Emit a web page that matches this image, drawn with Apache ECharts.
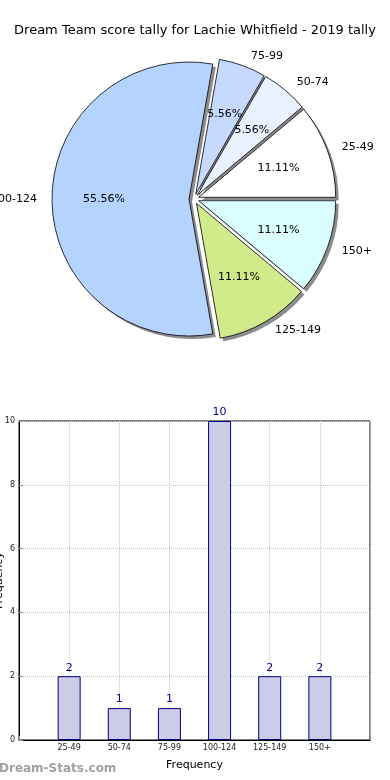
<!DOCTYPE html>
<html>
<head>
<meta charset="utf-8">
<script src="https://cdn.jsdelivr.net/npm/echarts@6/dist/echarts.min.js"></script>
<style>
html,body{margin:0;padding:0;background:#fff;}
#chart{width:390px;height:780px;}
</style>
</head>
<body>
<div id="chart"></div>
<script>
const titleText = 'Dream Team score tally for Lachie Whitfield - 2019 tally';
const categories = ['25-49', '50-74', '75-99', '100-124', '125-149', '150+'];
const counts = [2, 1, 1, 10, 2, 2];
const sliceColors = ['#ffffff', '#eaf2ff', '#c6daff', '#b4d4ff', '#d1eb8b', '#dbffff'];
const yTicks = [0, 2, 4, 6, 8, 10];
const xAxisName = 'Frequency';
const yAxisName = 'Frequency';
const watermark = 'Dream-Stats.com';

const total = counts.reduce((a, b) => a + b, 0);
const font = 'DejaVu Sans';

const pieData = categories.map((c, i) => ({
  name: c, value: counts[i], selected: true,
  itemStyle: { color: sliceColors[i] }
}));
const plainData = categories.map((c, i) => ({
  name: c, value: counts[i], selected: true
}));
const barData = counts.map((v, i) => [i + 1, v]);

const pieCommon = {
  type: 'pie',
  startAngle: 0,
  clockwise: false,
  selectedMode: 'multiple',
  selectedOffset: 5,
  avoidLabelOverlap: false,
  silent: true,
  emphasis: { disabled: true }
};

const chart = echarts.init(document.getElementById('chart'), null, { renderer: 'canvas' });
chart.setOption({
  animation: false,
  backgroundColor: '#ffffff',
  textStyle: { fontFamily: font },
  title: {
    text: titleText,
    left: 'center',
    top: 19,
    textStyle: { fontFamily: font, fontSize: 13, fontWeight: 'normal', color: '#000' }
  },
  grid: {
    left: 19, right: 20, top: 421, bottom: 40,
    outerBoundsMode: 'none', containLabel: false,
    show: true, borderColor: '#000', borderWidth: 1, backgroundColor: 'transparent'
  },
  xAxis: {
    type: 'value', min: 0, max: 7, interval: 1,
    name: xAxisName, nameLocation: 'middle', nameGap: 20,
    nameTextStyle: { fontFamily: font, fontSize: 11, color: '#000' },
    axisLine: { show: true, lineStyle: { color: '#000', width: 1 } },
    axisTick: { show: true, inside: true, length: 4, lineStyle: { color: '#999' } },
    axisLabel: {
      fontFamily: font, fontSize: 8, color: '#222', margin: 4,
      formatter: v => categories[v - 1] || ''
    },
    splitLine: { show: true, lineStyle: { color: '#c4c4c4', type: 'dotted', width: 1 } }
  },
  yAxis: {
    type: 'value', min: yTicks[0], max: yTicks[yTicks.length - 1], interval: yTicks[1] - yTicks[0],
    name: yAxisName, nameLocation: 'middle', nameGap: 14, nameRotate: 90,
    nameMoveOverlap: false,
    nameTextStyle: { fontFamily: font, fontSize: 11, color: '#000' },
    axisLine: { show: true, lineStyle: { color: '#000', width: 1 } },
    axisTick: { show: true, inside: true, length: 4, lineStyle: { color: '#999' } },
    axisLabel: { fontFamily: font, fontSize: 8, color: '#222', margin: 4 },
    splitLine: { show: true, lineStyle: { color: '#c4c4c4', type: 'dotted', width: 1 } }
  },
  series: [
    Object.assign({}, pieCommon, {
      name: 'shadow',
      center: [197, 202],
      radius: [0, 137],
      data: plainData,
      z: 1,
      itemStyle: { color: '#8c8c8c', borderWidth: 0 },
      select: { itemStyle: { color: '#8c8c8c', borderWidth: 0 } },
      label: { show: false },
      labelLine: { show: false }
    }),
    Object.assign({}, pieCommon, {
      name: 'tally',
      center: [194, 199],
      radius: [0, 137],
      data: pieData,
      z: 2,
      itemStyle: { borderColor: '#000', borderWidth: 0.8 },
      select: { itemStyle: { borderColor: '#000', borderWidth: 0.8 } },
      label: {
        show: true, position: 'outside', fontFamily: font, fontSize: 11, color: '#000',
        formatter: '{b}'
      },
      labelLine: { show: false, length: 10, length2: 0 }
    }),
    Object.assign({}, pieCommon, {
      name: 'pct',
      center: [194, 199],
      radius: [27, 137],
      data: plainData,
      z: 3,
      itemStyle: { color: 'transparent', borderWidth: 0 },
      select: { itemStyle: { color: 'transparent', borderWidth: 0 } },
      label: {
        show: true, position: 'inside', fontFamily: font, fontSize: 11, color: '#000',
        formatter: p => (p.value / total * 100).toFixed(2) + '%'
      },
      labelLine: { show: false }
    }),
    {
      type: 'bar',
      data: barData,
      barWidth: 23,
      itemStyle: { color: '#cccce6', borderColor: '#000080', borderWidth: 1 },
      label: {
        show: true, position: 'top', distance: 3,
        fontFamily: font, fontSize: 11, color: '#00008b'
      },
      emphasis: { disabled: true },
      z: 1
    }
  ],
  graphic: [
    {
      type: 'text', left: -1, top: 763,
      style: { text: watermark, fontFamily: font, fontSize: 12, fontWeight: 'bold', fill: '#a0a0a0' }
    }
  ]
});
</script>
</body>
</html>
